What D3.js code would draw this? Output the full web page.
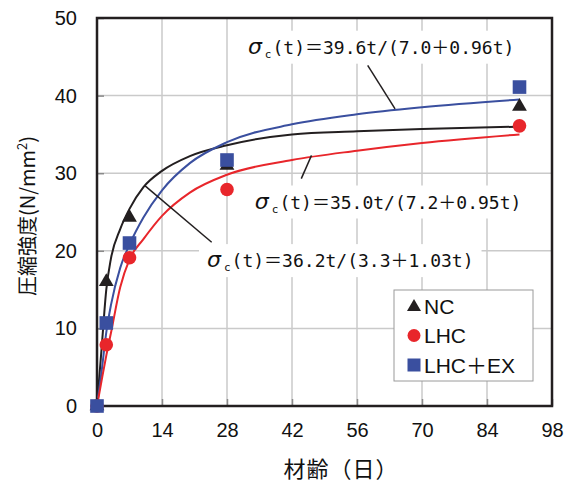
<!DOCTYPE html>
<html>
  <head>
    <meta charset="utf-8">
    <style>
      body { margin: 0; background: #fff; }
      svg { display: block; }
    </style>
    <script src="https://d3js.org/d3.v7.min.js"></script>
  </head>
  <body>
    <script>
      const width = 571;
      const height = 489;
      const margin = { top: 18, right: 19, bottom: 84, left: 97 };

      // measured points (age in days, strength N/mm2)
      const ncAge = [0, 2, 7, 28, 91];
      const ncVal = [0, 16.0, 24.3, 31.0, 38.6];
      const lhcAge = [0, 2, 7, 28, 91];
      const lhcVal = [0, 7.9, 19.1, 27.9, 36.1];
      const exAge = [0, 2, 7, 28, 91];
      const exVal = [0, 10.7, 21.0, 31.7, 41.1];

      // fitted curves
      const curveAge = [0, 1, 2, 3, 5, 7, 10, 14, 20, 28, 42, 56, 70, 91];
      const ncFit = [0, 7.5, 15.0, 19.0, 22.8, 25.4, 28.2, 30.3, 32.2, 33.6, 35.0, 35.4, 35.7, 36.0];
      const lhcFit = [0, 3.3, 6.5, 9.4, 15.3, 18.9, 21.5, 24.5, 27.5, 29.8, 31.7, 32.9, 33.9, 35.0];
      const exFit = [0, 4.5, 9.5, 13.0, 17.8, 20.8, 24.3, 27.8, 31.3, 34.0, 36.3, 37.6, 38.5, 39.5];

      const xTicks = [0, 14, 28, 42, 56, 70, 84, 98];
      const yTicks = [0, 10, 20, 30, 40, 50];

      const black = '#231f20';
      const red = '#e8262b';
      const blue = '#3a4f9f';
      const mono = "'DejaVu Sans Mono', 'Noto Sans CJK JP', monospace";

      const svg = d3.select('body').append('svg')
        .attr('width', width)
        .attr('height', height);

      const x = d3.scaleLinear().domain([0, 98]).range([margin.left, width - margin.right]);
      const y = d3.scaleLinear().domain([0, 50]).range([height - margin.bottom + 1, margin.top]);

      // grid
      svg.append('g').selectAll('line')
        .data(xTicks.slice(1, -1))
        .join('line')
        .attr('x1', d => x(d)).attr('x2', d => x(d))
        .attr('y1', y(0)).attr('y2', y(50))
        .attr('stroke', '#cacaca').attr('stroke-width', 1.5);
      svg.append('g').selectAll('line')
        .data(yTicks.slice(1, -1))
        .join('line')
        .attr('x1', x(0)).attr('x2', x(98))
        .attr('y1', d => y(d)).attr('y2', d => y(d))
        .attr('stroke', '#cacaca').attr('stroke-width', 1.5);

      // axes (labels + inner ticks)
      const axisX = svg.append('g')
        .attr('transform', `translate(0,${y(0)})`)
        .call(d3.axisBottom(x).tickValues(xTicks).tickSize(-7).tickPadding(20));
      const axisY = svg.append('g')
        .attr('transform', `translate(${x(0)},0)`)
        .call(d3.axisLeft(y).tickValues(yTicks).tickSize(-7).tickPadding(20));
      [axisX, axisY].forEach(g => {
        g.select('.domain').remove();
        g.selectAll('line').attr('stroke', '#8a8a8a').attr('stroke-width', 1.5);
        g.selectAll('text')
          .attr('font-family', "'Liberation Sans', Arial, sans-serif")
          .attr('font-size', 20)
          .attr('fill', '#111');
      });
      axisX.selectAll('text').attr('dy', '0.55em');

      // frame
      svg.append('rect')
        .attr('x', x(0)).attr('y', y(50))
        .attr('width', x(98) - x(0)).attr('height', y(0) - y(50))
        .attr('fill', 'none').attr('stroke', black).attr('stroke-width', 2.5);

      // axis titles
      svg.append('text')
        .attr('x', 341).attr('y', 477)
        .attr('text-anchor', 'middle')
        .attr('font-family', "'Noto Sans CJK JP', sans-serif")
        .attr('font-size', 22)
        .attr('letter-spacing', 1)
        .attr('fill', '#111')
        .text('材齢（日）');
      const yTitle = svg.append('text')
        .attr('transform', 'translate(35,216) rotate(-90)')
        .attr('text-anchor', 'middle')
        .attr('font-family', "'Noto Sans CJK JP', sans-serif")
        .attr('font-size', 20)
        .attr('fill', '#111');
      yTitle.append('tspan').text('圧縮強度(N/mm');
      yTitle.append('tspan').attr('font-size', 13).attr('dy', -8).text('2');
      yTitle.append('tspan').attr('dy', 8).text(')');

      // fit curves
      const line = d3.line()
        .x(d => x(d[0]))
        .y(d => y(d[1]))
        .curve(d3.curveMonotoneX);
      [[ncFit, black], [exFit, blue], [lhcFit, red]].forEach(([vals, color]) => {
        svg.append('path')
          .datum(curveAge.map((t, i) => [t, vals[i]]))
          .attr('d', line)
          .attr('fill', 'none')
          .attr('stroke', color)
          .attr('stroke-width', 2);
      });

      // equation labels with leader lines
      const labels = [
        { t: 32.5, v: 45.4, num: '39.6', a: '7.0', b: '0.96', from: [58.3, 43.9], to: [64.2, 38.3] },
        { t: 34.0, v: 25.45, num: '35.0', a: '7.2', b: '0.95', from: [46.2, 32.3], to: [44.0, 29.3] },
        { t: 23.7, v: 17.9, num: '36.2', a: '3.3', b: '1.03', from: [24.7, 21.1], to: [10.3, 28.4] }
      ];
      labels.forEach(l => {
        const txt = svg.append('text')
          .attr('x', x(l.t)).attr('y', y(l.v))
          .attr('font-family', mono)
          .attr('font-size', 18)
          .attr('fill', '#111');
        txt.append('tspan')
          .attr('font-family', "'DejaVu Sans', sans-serif")
          .attr('font-style', 'italic')
          .attr('font-size', 22)
          .text('σ');
        txt.append('tspan').attr('font-size', 11).attr('dx', 3).attr('dy', 4).text('c');
        txt.append('tspan').attr('dx', 1).attr('dy', -4).text(`(t)＝${l.num}t/(${l.a}＋${l.b}t)`);
        const bb = txt.node().getBBox();
        svg.insert('rect', () => txt.node())
          .attr('x', bb.x - 8).attr('y', bb.y - 3)
          .attr('width', bb.width + 16).attr('height', bb.height + 6)
          .attr('fill', '#fff');
        svg.append('line')
          .attr('x1', x(l.from[0])).attr('y1', y(l.from[1]))
          .attr('x2', x(l.to[0])).attr('y2', y(l.to[1]))
          .attr('stroke', black).attr('stroke-width', 1.5);
      });

      // markers
      const tri = d3.symbol().type(d3.symbolTriangle).size(95);
      svg.append('g').selectAll('path')
        .data(ncAge.map((t, i) => [t, ncVal[i]]))
        .join('path')
        .attr('d', tri)
        .attr('transform', d => `translate(${x(d[0])},${y(d[1])})`)
        .attr('fill', black);
      svg.append('g').selectAll('circle')
        .data(lhcAge.map((t, i) => [t, lhcVal[i]]))
        .join('circle')
        .attr('cx', d => x(d[0])).attr('cy', d => y(d[1]))
        .attr('r', 6.8)
        .attr('fill', red);
      svg.append('g').selectAll('rect')
        .data(exAge.map((t, i) => [t, exVal[i]]))
        .join('rect')
        .attr('x', d => x(d[0]) - 6.8).attr('y', d => y(d[1]) - 6.8)
        .attr('width', 13.6).attr('height', 13.6)
        .attr('fill', blue);

      // legend
      const legend = svg.append('g').attr('transform', 'translate(394,290)');
      legend.append('rect')
        .attr('width', 139).attr('height', 91)
        .attr('fill', '#fff')
        .attr('stroke', '#9a9a9a').attr('stroke-width', 1);
      const items = [['NC', 'tri', black], ['LHC', 'circle', red], ['LHC＋EX', 'square', blue]];
      items.forEach(([name, shape, color], i) => {
        const cy = 16 + i * 29.5;
        if (shape === 'tri') {
          legend.append('path').attr('d', d3.symbol().type(d3.symbolTriangle).size(85))
            .attr('transform', `translate(20,${cy + 1})`).attr('fill', color);
        } else if (shape === 'circle') {
          legend.append('circle').attr('cx', 20).attr('cy', cy).attr('r', 6.5).attr('fill', color);
        } else {
          legend.append('rect').attr('x', 13.5).attr('y', cy - 6.5)
            .attr('width', 13).attr('height', 13).attr('fill', color);
        }
        legend.append('text')
          .attr('x', 30).attr('y', cy + 7.5)
          .attr('font-family', "'Liberation Sans', Arial, 'Noto Sans CJK JP', sans-serif")
          .attr('font-size', 21)
          .attr('fill', '#111')
          .text(name);
      });
    </script>
  </body>
</html>
